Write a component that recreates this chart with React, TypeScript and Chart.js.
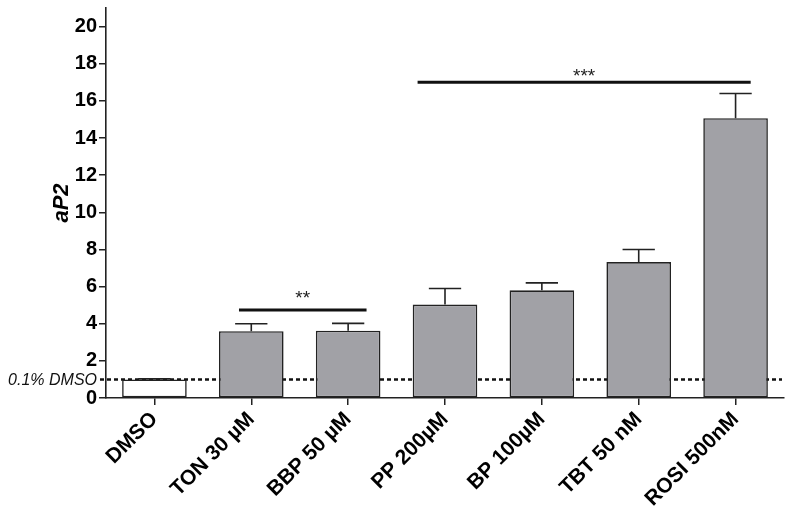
import React, { useEffect, useRef } from "react";
import { Chart, registerables } from "chart.js";

Chart.register(...registerables);

const categories = ["DMSO", "TON 30 µM", "BBP 50 µM", "PP 200µM", "BP 100µM", "TBT 50 nM", "ROSI 500nM"];
const means = [1.0, 3.6, 3.62, 5.03, 5.8, 7.32, 15.07];
const errors = [0.03, 0.4, 0.4, 0.87, 0.4, 0.68, 1.33];
const barColors = ["#ffffff", "#a1a1a6", "#a1a1a6", "#a1a1a6", "#a1a1a6", "#a1a1a6", "#a1a1a6"];
const yTicks = [0, 2, 4, 6, 8, 10, 12, 14, 16, 18, 20];
const yAxisTitle = "aP2";
const baselineValue = 1;
const baselineLabel = "0.1% DMSO";
const sigLabels = ["**", "***"];
const sigFrom = [0.873, 2.717];
const sigTo = [2.19, 6.156];
const sigLevel = [4.74, 17];

const FONT = "Arial, 'Liberation Sans', sans-serif";
const sigTextGap = [6, 0];

const overlayPlugin = {
  id: "overlay",
  beforeDatasetsDraw(chart: any) {
    const { ctx, scales, chartArea } = chart;
    const y = scales.y.getPixelForValue(baselineValue);
    ctx.save();
    ctx.strokeStyle = "#111";
    ctx.lineWidth = 2.5;
    ctx.setLineDash([4, 3]);
    ctx.beginPath();
    ctx.moveTo(chartArea.left - 6, y);
    ctx.lineTo(chartArea.right - 2, y);
    ctx.stroke();
    ctx.setLineDash([]);
    ctx.fillStyle = "#111";
    ctx.font = `italic 16px ${FONT}`;
    ctx.textAlign = "right";
    ctx.textBaseline = "middle";
    ctx.fillText(baselineLabel, chartArea.left - 9, y + 1);
    ctx.restore();
  },
  afterDatasetsDraw(chart: any) {
    const { ctx, scales, chartArea } = chart;
    const meta = chart.getDatasetMeta(0);
    ctx.save();
    ctx.strokeStyle = "#222";
    ctx.lineWidth = 1.6;
    meta.data.forEach((bar: any, i: number) => {
      const top = scales.y.getPixelForValue(means[i]);
      const cap = scales.y.getPixelForValue(means[i] + errors[i]);
      const half = bar.width / 4;
      ctx.beginPath();
      ctx.moveTo(bar.x, top);
      ctx.lineTo(bar.x, cap);
      ctx.moveTo(bar.x - half, cap);
      ctx.lineTo(bar.x + half, cap);
      ctx.stroke();
    });
    ctx.strokeStyle = "#111";
    ctx.lineWidth = 3;
    ctx.fillStyle = "#222";
    ctx.font = `19px ${FONT}`;
    ctx.textAlign = "center";
    ctx.textBaseline = "alphabetic";
    sigLabels.forEach((lab, i) => {
      const x1 = scales.x.getPixelForValue(sigFrom[i]);
      const x2 = scales.x.getPixelForValue(sigTo[i]);
      const yy = scales.y.getPixelForValue(sigLevel[i]);
      ctx.beginPath();
      ctx.moveTo(x1, yy);
      ctx.lineTo(x2, yy);
      ctx.stroke();
      ctx.fillText(lab, (x1 + x2) / 2, yy - sigTextGap[i]);
    });
    const cy = (chartArea.top + chartArea.bottom) / 2;
    ctx.translate(62, cy);
    ctx.rotate(-Math.PI / 2);
    ctx.fillStyle = "#000";
    ctx.font = `italic bold 22px ${FONT}`;
    ctx.textAlign = "center";
    ctx.textBaseline = "middle";
    ctx.fillText(yAxisTitle, 0, 0);
    ctx.restore();
  },
};

export default function App() {
  const ref = useRef<HTMLCanvasElement>(null);
  useEffect(() => {
    document.body.style.margin = "0";
    const chart = new Chart(ref.current as HTMLCanvasElement, {
      type: "bar",
      data: {
        labels: categories,
        datasets: [
          {
            data: means,
            backgroundColor: barColors,
            borderColor: "#222",
            borderWidth: 1.6,
            borderSkipped: false,
            barPercentage: 0.667,
            categoryPercentage: 1,
          },
        ],
      },
      options: {
        responsive: false,
        animation: false,
        layout: { padding: { top: 8, right: 8, left: 0, bottom: 0 } },
        plugins: { legend: { display: false }, tooltip: { enabled: false } },
        scales: {
          x: {
            offset: true,
            grid: { display: true, drawOnChartArea: false, offset: false, tickLength: 7, color: "#222", lineWidth: 1.5 },
            border: { display: true, color: "#222", width: 1.6 },
            ticks: {
              minRotation: 45,
              maxRotation: 45,
              color: "#000",
              font: { family: FONT, size: 21, weight: "bold" },
              padding: 2,
              autoSkip: false,
            },
            afterFit(scale: any) {
              scale.height = 118;
              scale.paddingLeft = 0;
              scale.paddingRight = 0;
            },
          },
          y: {
            min: 0,
            max: 21,
            grid: { display: true, drawOnChartArea: false, tickLength: 7, color: "#222", lineWidth: 1.5 },
            border: { display: true, color: "#222", width: 1.6 },
            afterBuildTicks(scale: any) {
              scale.ticks = yTicks.map((v) => ({ value: v }));
            },
            ticks: {
              color: "#000",
              font: { family: FONT, size: 20, weight: "bold" },
              padding: 2,
            },
            afterFit(scale: any) {
              scale.width = 106;
              scale.paddingTop = 0;
              scale.paddingBottom = 0;
            },
          },
        },
      },
      plugins: [overlayPlugin],
    } as any);
    return () => chart.destroy();
  }, []);
  return (
    <div style={{ position: "fixed", left: 0, top: 0, width: 792, height: 516, background: "#fff" }}>
      <canvas ref={ref} width={792} height={516} />
    </div>
  );
}
